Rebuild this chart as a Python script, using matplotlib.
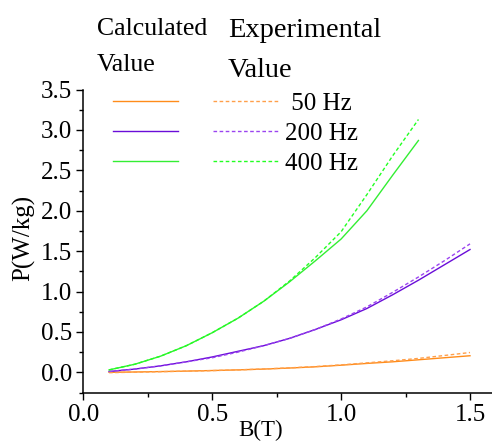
import numpy as np
import matplotlib
matplotlib.use('Agg')
import matplotlib.pyplot as plt
from matplotlib.ticker import MultipleLocator, FormatStrFormatter

plt.rcParams['font.family'] = ['Liberation Serif', 'DejaVu Serif']

# B (T) sample points
B_low = [0.1, 0.2, 0.3, 0.4, 0.5, 0.6, 0.7, 0.8, 0.9, 1.0, 1.1, 1.2, 1.3, 1.4, 1.5]
B_400 = [0.1, 0.2, 0.3, 0.4, 0.5, 0.6, 0.7, 0.8, 0.9, 1.0, 1.1, 1.2, 1.3]

# calculated / experimental losses P (W/kg)
calc_50 = [0.0, 0.004, 0.009, 0.015, 0.022, 0.03, 0.04, 0.053, 0.068, 0.088, 0.11, 0.13, 0.155, 0.18, 0.205]
exp_50 = [-0.005, 0.002, 0.008, 0.014, 0.021, 0.03, 0.041, 0.055, 0.071, 0.092, 0.117, 0.143, 0.172, 0.208, 0.245]
calc_200 = [0.01, 0.04, 0.08, 0.13, 0.19, 0.26, 0.33, 0.42, 0.53, 0.65, 0.79, 0.96, 1.14, 1.33, 1.52]
exp_200 = [0.01, 0.04, 0.08, 0.13, 0.18, 0.25, 0.33, 0.42, 0.53, 0.66, 0.81, 0.99, 1.18, 1.38, 1.59]
calc_400 = [0.03, 0.10, 0.20, 0.33, 0.49, 0.67, 0.88, 1.12, 1.38, 1.65, 2.0, 2.44, 2.87]
exp_400 = [0.03, 0.10, 0.20, 0.33, 0.49, 0.67, 0.88, 1.13, 1.42, 1.74, 2.2, 2.68, 3.13]

freq_labels = [' 50 Hz', '200 Hz', '400 Hz']
calc_colors = ['#FF8C1A', '#6A0DD8', '#33EE33']
exp_colors = ['#FF9F4A', '#9B44F0', '#22FF22']

W, H = 492, 444
fig = plt.figure(figsize=(W/100, H/100), dpi=100)
ax = fig.add_axes([83.3/W, 1-392.5/H, 1-83.3/W, (392.5-89.6)/H])

lw = 1.0
dash = (0, (2.6, 1.8))
c1, = ax.plot(B_low, calc_50, color=calc_colors[0], lw=lw)
c2, = ax.plot(B_low, calc_200, color=calc_colors[1], lw=lw)
c3, = ax.plot(B_400, calc_400, color=calc_colors[2], lw=lw)
e1, = ax.plot(B_low, exp_50, color=exp_colors[0], lw=lw, linestyle=dash)
e2, = ax.plot(B_low, exp_200, color=exp_colors[1], lw=lw, linestyle=dash)
e3, = ax.plot(B_400, exp_400, color=exp_colors[2], lw=lw, linestyle=dash)

ax.set_xlim(0, (W-83.3)/257.8)
ax.set_ylim(-0.25, 3.5)
ax.xaxis.set_major_locator(MultipleLocator(0.5))
ax.xaxis.set_minor_locator(MultipleLocator(0.25))
ax.yaxis.set_major_locator(MultipleLocator(0.5))
ax.yaxis.set_minor_locator(MultipleLocator(0.25))
ax.xaxis.set_major_formatter(FormatStrFormatter('%.1f'))
ax.yaxis.set_major_formatter(FormatStrFormatter('%.1f'))
ax.spines['top'].set_visible(False)
ax.spines['right'].set_visible(False)
for s in ['left', 'bottom']:
    ax.spines[s].set_linewidth(1.1)
ax.tick_params(which='major', length=5, width=1.0, labelsize=18, pad=3)
ax.tick_params(which='minor', length=3, width=1.0)

ax.set_xlabel('B(T)', fontsize=16.5)
ax.xaxis.set_label_coords((261-83.3)/(W-83.3), -0.092)
ax.set_ylabel('P(W/kg)', fontsize=18)
ax.yaxis.set_label_coords((35-83.3)/(W-83.3), 0.51)

leg = ax.legend([c1, c2, c3, e1, e2, e3], ['', '', ''] + freq_labels,
                ncol=2, frameon=False, fontsize=18,
                handlelength=2.6, handletextpad=0.28, columnspacing=1.12,
                labelspacing=0.31, borderpad=0, borderaxespad=0,
                loc='upper left', bbox_to_anchor=(113/W, 1-92/H),
                bbox_transform=fig.transFigure)

fig.text(97/W, 1-35/H, 'Calculated', fontsize=18.5, va='baseline', ha='left')
fig.text(97/W, 1-71/H, 'Value', fontsize=18.5, va='baseline', ha='left')
fig.text(228/W, 1-37/H, 'Experimental', fontsize=20.5, va='baseline', ha='left')
fig.text(228/W, 1-77/H, 'Value', fontsize=20.5, va='baseline', ha='left')

plt.savefig('out.png', dpi=100)
